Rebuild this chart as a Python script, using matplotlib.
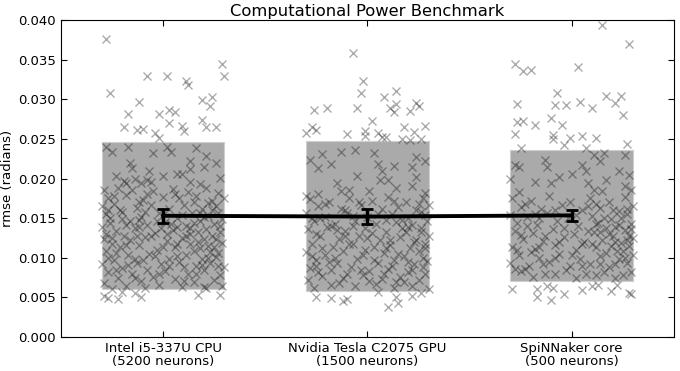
import numpy as np
import matplotlib
matplotlib.use("Agg")
import matplotlib.pyplot as plt

# benchmark platforms
labels = ["Intel i5-337U CPU\n(5200 neurons)",
          "Nvidia Tesla C2075 GPU\n(1500 neurons)",
          "SpiNNaker core\n(500 neurons)"]

# mean rmse, confidence interval, and shaded band (low/high) per platform
means = [0.01530, 0.01520, 0.01535]
errs = [0.00085, 0.00090, 0.00065]
band_low = [0.0060, 0.0058, 0.0071]
band_high = [0.0246, 0.0247, 0.0236]

# individual trials: horizontal jitter and rmse (in 1e-4 rad)
cpu_pts = [
    (-0.28, 376), (0.29, 344), (0.30, 329), (-0.08, 329), (0.02, 330), (0.11, 323), (0.12, 318),
    (-0.26, 308), (-0.12, 296), (0.19, 299), (0.24, 303), (0.23, 292), (-0.17, 281), (-0.02, 282),
    (0.03, 286), (0.06, 284), (0.03, 270), (-0.19, 265), (-0.13, 261), (-0.10, 262), (0.09, 266),
    (0.10, 260), (0.19, 274), (0.21, 265), (0.26, 265), (-0.04, 257), (-0.02, 251),
    (-0.29, 52), (-0.27, 49), (-0.22, 48), (-0.20, 57), (-0.14, 55), (-0.11, 51), (0.17, 53),
    (0.28, 53), (0.20, 63),
    (-0.28, 240), (-0.25, 233), (-0.17, 240), (-0.16, 220), (-0.05, 232), (0.02, 240), (0.04, 233),
    (0.16, 238), (0.21, 229), (0.26, 219), (0.20, 214), (0.13, 222), (0.13, 212), (0.07, 206),
    (0.09, 206), (-0.07, 210), (-0.15, 213), (0.00, 203), (0.28, 201), (0.18, 193), (0.13, 195),
    (-0.23, 203), (-0.19, 197), (-0.18, 194), (-0.14, 199), (-0.11, 194), (-0.08, 198), (-0.06, 196),
    (-0.29, 185), (-0.22, 188), (-0.15, 186), (-0.05, 184), (0.05, 187), (0.12, 183), (0.21, 188),
    (0.27, 182), (-0.27, 176), (-0.18, 179), (-0.10, 173), (0.00, 177), (0.08, 175), (0.16, 178),
    (0.24, 172), (0.30, 176), (-0.30, 165), (-0.24, 168), (-0.13, 163), (-0.06, 167), (0.03, 162),
    (0.10, 166), (0.19, 161), (0.26, 165), (-0.28, 155), (-0.20, 158), (-0.11, 152), (-0.02, 156),
    (0.07, 150), (0.14, 157), (0.22, 153), (0.29, 149), (-0.26, 144), (-0.16, 147), (-0.08, 141),
    (0.01, 145), (0.11, 140), (0.18, 146), (0.25, 142), (-0.30, 139), (-0.23, 134), (-0.14, 137),
    (-0.04, 131), (0.05, 135), (0.13, 130), (0.21, 136), (0.28, 132), (-0.19, 128), (-0.29, 124),
    (-0.09, 126), (0.02, 121), (0.09, 125), (0.17, 120), (0.24, 127), (-0.25, 118), (0.29, 119),
    (-0.21, 113), (-0.12, 116), (-0.03, 110), (0.06, 114), (0.15, 109), (0.22, 115), (-0.28, 108),
    (0.27, 106), (-0.17, 103), (-0.07, 105), (0.03, 99), (0.11, 104), (0.19, 98), (0.26, 101),
    (-0.24, 97), (-0.30, 92), (-0.13, 94), (-0.01, 92), (0.08, 95), (0.16, 90), (0.23, 93),
    (0.30, 88), (-0.20, 87), (-0.08, 85), (-0.27, 82), (-0.15, 80), (0.01, 83), (0.12, 79),
    (0.20, 84), (0.28, 78), (-0.05, 76), (-0.22, 74), (-0.11, 71), (0.06, 73), (0.15, 69),
    (0.25, 72), (-0.29, 68), (-0.18, 65), (-0.02, 66), (0.09, 63), (0.21, 62), (-0.25, 61),
    (0.29, 64), (-0.09, 62), (-0.26, 150), (-0.12, 148), (0.04, 143), (0.20, 151), (-0.18, 141),
    (0.13, 138), (-0.06, 128), (0.26, 124), (-0.16, 122), (0.07, 117), (-0.23, 106), (0.18, 112),
    (-0.04, 102), (0.10, 88), (-0.14, 99), (0.23, 107), (-0.01, 138), (0.27, 156), (-0.21, 160),
    (0.15, 170), (-0.08, 180), (0.02, 130), (-0.28, 130), (0.17, 133), (0.24, 160),
    (-0.24, 178), (-0.12, 171), (0.06, 180), (0.22, 169), (-0.27, 160), (-0.09, 158), (0.09, 154),
    (0.18, 156), (-0.20, 149), (-0.03, 146), (0.15, 144), (0.28, 140), (-0.12, 139), (0.07, 139),
    (-0.25, 125), (-0.13, 127), (0.11, 127), (0.20, 124), (-0.18, 116), (0.00, 114), (0.13, 118),
    (0.25, 113), (-0.27, 100), (-0.10, 97), (0.07, 102), (0.22, 100), (-0.17, 91), (0.03, 89),
    (0.19, 91), (-0.23, 85), (-0.02, 80), (0.16, 80), (0.27, 90), (-0.14, 75), (0.10, 71),
]

gpu_pts = [
    (-0.07, 358), (-0.02, 323), (-0.03, 308), (0.08, 303), (0.14, 310), (-0.05, 289), (0.11, 289),
    (0.13, 284), (0.14, 294), (0.21, 285), (0.24, 295), (0.25, 292), (-0.26, 287), (-0.20, 289),
    (-0.30, 258), (-0.27, 265), (-0.25, 261), (-0.10, 256), (0.02, 273), (-0.01, 260), (-0.01, 254),
    (0.05, 258), (0.07, 253), (0.09, 252), (0.18, 265), (0.23, 259), (0.28, 266), (0.17, 250),
    (0.21, 248), (0.26, 250),
    (-0.25, 51), (-0.18, 49), (-0.12, 46), (-0.10, 48), (0.05, 57), (0.10, 38), (0.14, 50),
    (0.15, 43), (0.22, 52), (0.26, 55),
    (-0.28, 223), (-0.22, 231), (-0.18, 218), (-0.24, 213), (-0.13, 234), (-0.06, 236), (0.03, 232),
    (0.05, 218), (0.13, 216), (0.07, 209), (0.22, 215), (0.24, 227), (0.28, 222), (0.24, 202),
    (-0.05, 203), (-0.15, 194), (0.10, 198), (0.14, 188), (0.22, 191), (0.28, 182), (-0.30, 178),
    (-0.24, 181), (-0.09, 185), (0.01, 184), (-0.13, 184), (0.06, 198),
    (-0.28, 174), (-0.19, 171), (-0.09, 176), (0.02, 172), (0.10, 177), (0.19, 170), (0.27, 175),
    (-0.24, 165), (-0.13, 162), (-0.03, 166), (0.07, 161), (0.15, 164), (0.24, 160), (0.30, 166),
    (-0.30, 156), (-0.21, 152), (-0.10, 157), (0.00, 151), (0.12, 155), (0.20, 150), (0.28, 154),
    (-0.26, 146), (-0.16, 143), (-0.06, 147), (0.04, 142), (0.14, 145), (0.22, 141), (0.29, 146),
    (-0.29, 136), (-0.20, 139), (-0.11, 134), (-0.01, 137), (0.09, 133), (0.17, 138), (0.26, 132),
    (-0.23, 127), (-0.14, 124), (-0.04, 128), (0.06, 123), (0.16, 126), (0.24, 122), (0.30, 128),
    (-0.27, 117), (-0.17, 114), (-0.07, 118), (0.03, 113), (0.11, 116), (0.21, 112), (0.28, 118),
    (-0.30, 107), (-0.21, 104), (-0.12, 108), (-0.02, 103), (0.08, 106), (0.18, 102), (0.25, 108),
    (-0.25, 97), (-0.15, 94), (-0.05, 98), (0.05, 93), (0.13, 97), (0.23, 92), (0.29, 96),
    (-0.28, 87), (-0.18, 84), (-0.08, 88), (0.01, 83), (0.10, 86), (0.20, 82), (0.27, 88),
    (-0.22, 77), (-0.12, 74), (-0.02, 78), (0.07, 73), (0.16, 76), (0.25, 72), (-0.29, 72),
    (-0.18, 66), (-0.06, 64), (0.04, 67), (0.13, 62), (0.22, 65), (0.30, 61), (-0.26, 62),
    (-0.23, 150), (0.19, 133), (-0.09, 118), (0.27, 100), (-0.15, 135), (0.05, 155), (-0.27, 102),
    (0.12, 90), (0.23, 120), (-0.03, 85), (0.17, 148), (-0.19, 95), (0.26, 138), (0.00, 125),
    (-0.11, 160), (0.09, 112), (0.28, 80), (-0.25, 130), (0.14, 70), (-0.07, 140),
    (-0.21, 168), (-0.04, 170), (0.13, 172), (0.25, 168), (-0.27, 150), (-0.07, 153), (0.09, 148),
    (0.26, 158), (-0.18, 140), (0.02, 131), (0.20, 139), (-0.11, 128), (0.11, 122), (0.28, 112),
    (-0.22, 112), (-0.01, 110), (0.15, 105), (-0.16, 100), (0.03, 97), (0.20, 95), (-0.25, 90),
    (-0.10, 80), (0.08, 79), (0.22, 85), (-0.14, 68), (0.01, 71), (0.18, 70), (-0.24, 82),
]

spin_pts = [
    (0.15, 394), (0.28, 370), (-0.28, 344), (-0.24, 336), (-0.20, 337), (0.03, 341), (-0.07, 308),
    (-0.08, 293), (-0.03, 293), (-0.27, 294), (0.04, 296), (0.10, 289), (0.17, 304), (0.21, 295),
    (0.24, 304), (0.25, 280), (-0.27, 271), (-0.24, 272), (-0.18, 268), (-0.10, 277), (-0.05, 268),
    (-0.28, 256), (-0.09, 255), (-0.09, 250), (-0.04, 242), (-0.01, 251), (0.05, 254), (0.07, 239),
    (-0.25, 239), (0.12, 251), (0.27, 244),
    (-0.29, 60), (-0.17, 60), (-0.17, 51), (-0.10, 47), (-0.12, 64), (-0.09, 62), (-0.04, 54),
    (0.05, 59), (0.10, 64), (0.13, 66), (0.19, 58), (0.22, 66), (0.28, 56), (0.29, 54),
    (-0.28, 217), (-0.26, 215), (-0.13, 223), (-0.12, 215), (0.05, 217), (0.07, 209), (0.11, 230),
    (0.16, 232), (0.14, 222), (0.26, 230), (0.23, 209), (0.28, 204), (-0.30, 200), (-0.18, 196),
    (-0.06, 202), (0.00, 206), (-0.10, 194), (0.08, 194), (0.17, 198), (-0.26, 183), (0.11, 185),
    (0.15, 184), (0.26, 190), (0.29, 185),
    (-0.29, 176), (-0.20, 172), (-0.11, 178), (-0.01, 171), (0.09, 175), (0.18, 170), (0.26, 177),
    (-0.25, 164), (-0.15, 161), (-0.05, 166), (0.05, 160), (0.14, 163), (0.23, 159), (0.30, 165),
    (-0.30, 154), (-0.22, 151), (-0.12, 156), (-0.02, 150), (0.10, 153), (0.19, 149), (0.27, 155),
    (-0.27, 144), (-0.17, 141), (-0.07, 146), (0.03, 140), (0.13, 144), (0.21, 139), (0.29, 143),
    (-0.28, 134), (-0.19, 131), (-0.09, 136), (0.01, 130), (0.11, 133), (0.20, 128), (0.26, 135),
    (-0.24, 124), (-0.14, 121), (-0.04, 126), (0.06, 120), (0.15, 123), (0.24, 119), (0.30, 125),
    (-0.29, 114), (-0.18, 111), (-0.08, 116), (0.02, 110), (0.12, 113), (0.22, 109), (0.28, 115),
    (-0.26, 103), (-0.16, 100), (-0.06, 105), (0.04, 99), (0.14, 102), (0.23, 98), (0.30, 104),
    (-0.30, 93), (-0.21, 90), (-0.11, 95), (-0.01, 89), (0.09, 92), (0.18, 88), (0.27, 94),
    (-0.25, 83), (-0.13, 80), (-0.03, 84), (0.07, 79), (0.16, 82), (0.25, 78), (-0.19, 76),
    (0.02, 75), (0.21, 74), (0.24, 150), (0.17, 138), (0.28, 128), (0.12, 143), (0.20, 160),
    (-0.22, 140), (-0.13, 128), (0.05, 118), (-0.27, 110), (0.25, 108), (-0.08, 100), (0.14, 92),
    (-0.23, 86), (0.29, 136), (-0.16, 150), (0.08, 165), (-0.04, 138), (0.19, 115),
    (-0.23, 168), (-0.08, 160), (0.12, 168), (0.27, 162), (-0.18, 155), (0.02, 154), (0.16, 150),
    (0.23, 141), (0.08, 134), (0.18, 130), (0.27, 122), (-0.25, 129), (-0.06, 120), (0.10, 118),
    (0.21, 120), (-0.20, 107), (0.00, 103), (0.17, 106), (0.26, 100), (-0.14, 92), (0.05, 90),
    (0.21, 92), (-0.28, 86), (-0.08, 80), (0.12, 78), (0.29, 82), (-0.16, 114), (0.14, 133),
]

groups = [cpu_pts, gpu_pts, spin_pts]

fig = plt.figure(figsize=(6.8, 3.71), dpi=100)
ax = fig.add_axes([0.0897, 0.0916, 0.9013, 0.8544])

xs = np.arange(len(labels))
lo = np.array(band_low)
hi = np.array(band_high)
ax.bar(xs, hi - lo, bottom=lo, width=0.6, color="#aaaaaa",
       edgecolor="#cfcfcf", linewidth=0.8, zorder=1)

for i, pts in enumerate(groups):
    p = np.array(pts)
    ax.plot(i + p[:, 0], p[:, 1] * 1e-4, "x", color="black", alpha=0.33,
            markersize=5.5, markeredgewidth=1.0, zorder=2)

ax.errorbar(xs, means, yerr=errs, color="black", linewidth=2.8,
            capsize=4, capthick=2, elinewidth=2.5, zorder=3)

ax.set_xlim(-0.5, 2.5)
ax.set_ylim(0, 0.040)
ax.set_yticks(np.arange(0, 0.0401, 0.005))
ax.set_yticklabels(["%.3f" % v for v in np.arange(0, 0.0401, 0.005)])
ax.set_xticks(xs)
ax.set_xticklabels(labels, fontsize=9.5, linespacing=1.0)
ax.tick_params(axis="y", labelsize=9.5)
ax.tick_params(direction="in", top=True, right=True, length=4)
ax.set_ylabel("rmse (radians)", fontsize=9.5)
ax.yaxis.set_label_coords(-0.077, 0.5)
ax.set_title("Computational Power Benchmark", fontsize=11.8, pad=3)

fig.savefig("out.png", dpi=100)
